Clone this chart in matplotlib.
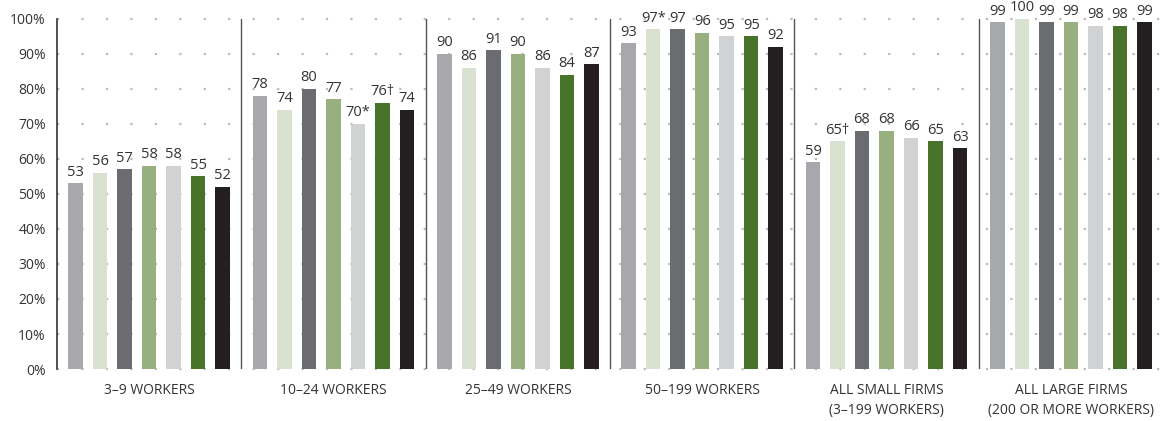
import matplotlib
matplotlib.use("Agg")
import matplotlib.pyplot as plt
import numpy as np

groups = ["3\u20139 WORKERS", "10\u201324 WORKERS", "25\u201349 WORKERS", "50\u2013199 WORKERS",
          "ALL SMALL FIRMS\n(3\u2013199 WORKERS)", "ALL LARGE FIRMS\n(200 OR MORE WORKERS)"]
series = [
    [53, 78, 90, 93, 59, 99],
    [56, 74, 86, 97, 65, 100],
    [57, 80, 91, 97, 68, 99],
    [58, 77, 90, 96, 68, 99],
    [58, 70, 86, 95, 66, 98],
    [55, 76, 84, 95, 65, 98],
    [52, 74, 87, 92, 63, 99],
]
marks = {(1, 3): "*", (4, 1): "*", (5, 1): "\u2020", (1, 4): "\u2020"}
colors = ["#A7A8AB", "#D9E2D0", "#6B6C70", "#98AF80", "#D1D2D4", "#48742A", "#231F20"]
yticks = [0, 10, 20, 30, 40, 50, 60, 70, 80, 90, 100]

plt.rcParams['font.family'] = ['Open Sans', 'DejaVu Sans']
fig = plt.figure(figsize=(11.63, 4.21), dpi=100)
ax = fig.add_axes([0.049, 0.1235, 0.951, 0.8315])

x = np.arange(len(groups))
step = 0.133
width = 0.079
n = len(series)
for i, vals in enumerate(series):
    off = (i - (n - 1) / 2) * step
    ax.bar(x + off, vals, width=width, color=colors[i], zorder=3)
    for j, v in enumerate(vals):
        lab = str(v) + marks.get((i, j), "")
        ax.text(x[j] + off, v + 1.0, lab, ha="center", va="bottom", fontsize=10.5, color="#333333", zorder=4)

ax.set_xlim(-0.5, len(groups) - 0.5)
ax.set_ylim(0, 100)
ax.set_yticks(yticks)
ax.set_yticklabels([f"{t}%" for t in yticks], fontsize=10, color="#333333")
ax.tick_params(axis="y", length=0, pad=8)
ax.set_xticks(x)
ax.set_xticklabels(groups, fontsize=10, color="#333333", linespacing=1.5)
ax.tick_params(axis="x", length=0, pad=10)

for t in yticks:
    ax.axhline(t, color="#BBBBBB", linestyle=(0, (1, 10)), linewidth=1.6, zorder=1, clip_on=False)
for s in np.arange(0.5, len(groups) - 0.5, 1):
    ax.axvline(s, color="#555555", linewidth=1.0, zorder=2)

for sp in ["top", "right", "bottom"]:
    ax.spines[sp].set_visible(False)
ax.spines["left"].set_color("#333333")
ax.spines["left"].set_linewidth(1.2)

fig.savefig("out.png", dpi=100)
